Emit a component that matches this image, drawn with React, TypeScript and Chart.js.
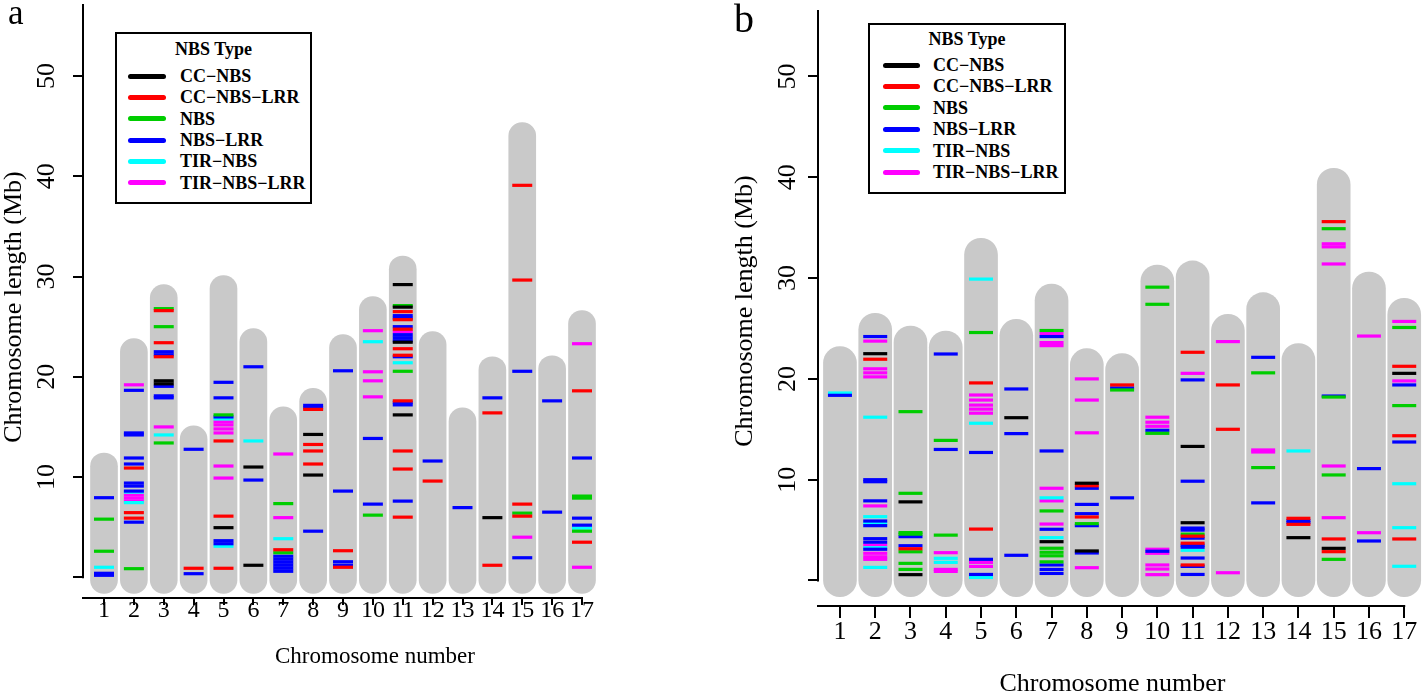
import React, { useEffect, useRef } from 'react';
import { Chart, registerables } from 'chart.js';

Chart.register(...registerables);

const FONT = "'Liberation Serif', 'Times New Roman', serif";

// ---------- shared categories / ticks ----------
const CHROMOSOMES = [1, 2, 3, 4, 5, 6, 7, 8, 9, 10, 11, 12, 13, 14, 15, 16, 17];
const Y_TICKS = [0, 10, 20, 30, 40, 50];
const TYPE_NAMES = ['CC\u2212NBS', 'CC\u2212NBS\u2212LRR', 'NBS', 'NBS\u2212LRR', 'TIR\u2212NBS', 'TIR\u2212NBS\u2212LRR'];
const TYPE_COLORS = ['#000000', '#FF0000', '#00CD00', '#0000FF', '#00FFFF', '#FF00FF'];
const CAP_MB = 1.6; // rounded end of each chromosome bar

// ---------- panel a ----------
const lengthsA = [10.8, 22.2, 27.6, 13.5, 28.5, 23.2, 15.4, 17.25, 22.6, 26.4, 30.45, 22.9, 15.3, 20.4, 43.75, 20.5, 25.0];

const aCcNbs = [[3, 19.6], [3, 19.3], [5, 4.95], [6, 11.0], [6, 1.2], [8, 14.25], [8, 10.2], [11, 29.2], [11, 26.95], [11, 23.45], [11, 16.2], [14, 5.95]];
const aCcNbsLrr = [[2, 10.9], [2, 6.45], [2, 5.9], [3, 26.6], [3, 23.4], [3, 22.0], [4, 0.9], [5, 13.6], [5, 6.1], [5, 0.9], [7, 2.75], [8, 16.75], [8, 13.25], [8, 12.6], [8, 11.3], [9, 2.65], [9, 1.0], [11, 26.5], [11, 25.7], [11, 24.75], [11, 22.8], [11, 22.15], [11, 17.6], [11, 12.6], [11, 10.8], [11, 6.0], [12, 9.6], [14, 16.4], [14, 1.2], [15, 39.1], [15, 29.65], [15, 7.3], [15, 6.1], [17, 18.6], [17, 3.5]];
const aNbs = [[1, 5.8], [1, 2.6], [2, 0.86], [3, 26.8], [3, 25.0], [3, 13.4], [5, 16.2], [7, 7.35], [7, 2.45], [10, 6.2], [11, 27.1], [11, 20.55], [15, 6.4], [17, 8.1], [17, 7.9], [17, 4.6]];
const aNbsLrr = [[1, 7.94], [1, 0.4], [1, 0.2], [2, 18.65], [2, 14.4], [2, 14.2], [2, 11.9], [2, 11.3], [2, 9.4], [2, 9.1], [2, 8.6], [2, 5.5], [3, 22.5], [3, 22.2], [3, 19.05], [3, 18.1], [3, 17.9], [4, 12.77], [4, 0.36], [5, 19.45], [5, 17.9], [5, 16.0], [5, 3.65], [5, 3.35], [6, 21.0], [6, 9.7], [7, 2.1], [7, 1.8], [7, 1.5], [7, 1.2], [7, 0.9], [7, 0.6], [8, 17.15], [8, 16.9], [8, 4.6], [9, 20.6], [9, 8.6], [9, 1.55], [9, 1.2], [10, 13.85], [10, 7.3], [11, 26.1], [11, 25.85], [11, 25.0], [11, 24.2], [11, 23.9], [11, 23.6], [11, 22.0], [11, 17.45], [11, 17.2], [11, 7.6], [12, 11.6], [13, 6.95], [14, 17.9], [15, 20.55], [15, 1.95], [16, 17.6], [16, 6.5], [17, 11.9], [17, 5.9], [17, 5.2]];
const aTirNbs = [[1, 1.0], [2, 8.5], [2, 7.45], [3, 14.2], [5, 15.8], [5, 3.1], [6, 13.6], [7, 3.85], [10, 23.5], [11, 21.4], [17, 4.9]];
const aTirNbsLrr = [[2, 19.2], [2, 8.2], [2, 7.9], [2, 7.6], [3, 15.0], [5, 15.5], [5, 15.2], [5, 14.8], [5, 14.4], [5, 11.1], [5, 9.9], [7, 12.3], [7, 5.95], [10, 24.6], [10, 20.5], [10, 19.6], [10, 18.0], [11, 24.5], [15, 4.0], [17, 23.3], [17, 1.0]];

// ---------- panel b ----------
const lengthsB = [21.6, 24.9, 23.65, 23.15, 32.35, 24.3, 27.8, 21.4, 20.9, 29.7, 30.1, 24.8, 26.95, 21.9, 39.3, 29.0, 26.4];

const bCcNbs = [[2, 22.5], [3, 7.8], [3, 0.58], [6, 16.15], [7, 3.85], [8, 9.65], [8, 2.93], [11, 13.3], [11, 5.73], [14, 4.25], [15, 3.19], [17, 20.55]];
const bCcNbsLrr = [[2, 21.95], [3, 3.15], [5, 19.6], [5, 5.1], [8, 9.4], [8, 6.3], [9, 19.4], [11, 22.64], [11, 4.4], [11, 3.7], [11, 1.54], [12, 19.4], [12, 15.0], [14, 6.17], [14, 5.57], [15, 35.6], [15, 4.12], [15, 2.86], [17, 21.25], [17, 14.36], [17, 4.12]];
const bNbs = [[3, 16.75], [3, 8.65], [3, 4.75], [3, 4.6], [3, 2.85], [3, 1.7], [3, 1.1], [4, 13.9], [4, 4.5], [5, 24.6], [7, 24.8], [7, 6.9], [7, 3.2], [7, 2.8], [7, 2.45], [7, 1.85], [8, 5.64], [9, 18.9], [10, 29.1], [10, 27.4], [10, 14.6], [11, 4.6], [13, 20.6], [13, 11.2], [15, 34.9], [15, 18.2], [15, 10.47], [15, 2.1], [17, 25.1], [17, 17.35]];
const bNbsLrr = [[1, 18.37], [2, 24.2], [2, 10.0], [2, 9.8], [2, 7.9], [2, 5.9], [2, 5.44], [2, 4.15], [2, 3.8], [2, 3.1], [3, 4.35], [3, 3.45], [4, 22.47], [4, 13.0], [5, 12.7], [5, 2.1], [5, 0.6], [6, 19.0], [6, 14.57], [6, 2.5], [7, 24.2], [7, 12.85], [7, 5.08], [7, 1.54], [7, 1.1], [7, 0.7], [8, 9.15], [8, 7.55], [8, 6.63], [8, 5.44], [8, 2.73], [9, 19.1], [9, 8.2], [10, 14.9], [10, 2.9], [11, 19.9], [11, 9.85], [11, 5.2], [11, 5.0], [11, 4.2], [11, 3.5], [11, 3.3], [11, 2.23], [11, 1.4], [11, 0.6], [13, 22.14], [13, 7.7], [14, 5.95], [14, 5.75], [15, 18.3], [16, 11.1], [16, 3.92], [17, 19.4], [17, 13.74]];
const bTirNbs = [[1, 18.6], [2, 16.2], [2, 6.33], [2, 5.67], [2, 3.25], [2, 1.3], [4, 2.2], [4, 1.8], [5, 29.9], [5, 15.6], [5, 0.3], [7, 8.2], [7, 4.25], [11, 3.0], [14, 12.85], [17, 9.6], [17, 5.24], [17, 1.41]];
const bTirNbsLrr = [[2, 23.75], [2, 21.0], [2, 20.6], [2, 20.2], [2, 7.4], [2, 3.5], [2, 2.7], [2, 2.35], [2, 2.1], [4, 2.76], [4, 1.1], [4, 0.9], [5, 18.4], [5, 17.9], [5, 17.4], [5, 17.0], [5, 16.6], [5, 1.8], [5, 1.4], [5, 0.4], [7, 24.5], [7, 23.6], [7, 23.3], [7, 9.15], [7, 7.9], [7, 5.6], [8, 20.0], [8, 17.9], [8, 14.65], [8, 1.27], [10, 16.2], [10, 15.7], [10, 15.3], [10, 3.1], [10, 2.7], [10, 1.54], [10, 1.14], [10, 0.58], [11, 20.55], [12, 23.7], [12, 0.77], [13, 12.95], [13, 12.75], [15, 33.4], [15, 33.1], [15, 31.4], [15, 11.36], [15, 6.23], [16, 24.25], [16, 4.74], [17, 25.7], [17, 19.8]];

const marksA = [aCcNbs, aCcNbsLrr, aNbs, aNbsLrr, aTirNbs, aTirNbsLrr];
const marksB = [bCcNbs, bCcNbsLrr, bNbs, bNbsLrr, bTirNbs, bTirNbsLrr];

// ---------- layout specs ----------
type Spec = {
  left: number; lengths: number[]; marks: number[][][];
  padTop: number; padRight: number; yWidth: number; xHeight: number;
  xMin: number; xMax: number; yMin: number; yMax: number; axisTop: number;
  barWidth: number; markRadius: number;
  xTickFont: number; xTickLen: number; xTickPad: number; xTitleFont: number; xTitlePad: number;
  yTickPad: number; yTitlePad: number;
};

const specA: Spec = {
  left: 0, lengths: lengthsA, marks: marksA,
  padTop: 16, padRight: 44, yWidth: 83, xHeight: 95,
  xMin: 0.297, xMax: 19.845, yMin: -2.065, yMax: 55.99, axisTop: 57.19,
  barWidth: 27, markRadius: 10,
  xTickFont: 24, xTickLen: 7, xTickPad: -6, xTitleFont: 23, xTitlePad: 24.5,
  yTickPad: 13, yTitlePad: 1,
};
const specB: Spec = {
  left: 711, lengths: lengthsB, marks: marksB,
  padTop: 16, padRight: 14, yWidth: 107, xHeight: 87,
  xMin: 0.3775, xMax: 17.073, yMin: -2.53, yMax: 56.0, axisTop: 56.6,
  barWidth: 33, markRadius: 12,
  xTickFont: 26, xTickLen: 12, xTickPad: 1.4, xTitleFont: 26, xTitlePad: -4,
  yTickPad: 7, yTitlePad: 21,
};

const axisLinesPlugin = {
  id: 'axisLines',
  afterDraw(chart: any) {
    const { ctx, chartArea, scales } = chart;
    const xs = scales.x;
    const ys = scales.y;
    const top = (chart.options.plugins.axisLines || {}).top;
    ctx.save();
    ctx.strokeStyle = '#000';
    ctx.lineWidth = 2;
    ctx.beginPath();
    ctx.moveTo(chartArea.left, ys.getPixelForValue(0) + 1);
    ctx.lineTo(chartArea.left, ys.getPixelForValue(top));
    ctx.moveTo(chartArea.left - 1, chartArea.bottom);
    ctx.lineTo(xs.getPixelForValue(CHROMOSOMES[CHROMOSOMES.length - 1]) + 1, chartArea.bottom);
    ctx.stroke();
    ctx.restore();
  },
};

function zeroPadding(sc: any) {
  sc.paddingTop = 0;
  sc.paddingBottom = 0;
  sc.paddingLeft = 0;
  sc.paddingRight = 0;
}

function buildConfig(s: Spec): any {
  const barData = CHROMOSOMES.map((c, i) => ({ x: c, y: [-CAP_MB, s.lengths[i] + CAP_MB] }));
  const markSets = s.marks.map((pts, k) => ({
    type: 'scatter',
    label: TYPE_NAMES[k],
    data: pts.map(([c, v]) => ({ x: c, y: v })),
    pointStyle: 'line',
    pointRadius: s.markRadius,
    pointHoverRadius: s.markRadius,
    pointBorderWidth: 3.2,
    pointHoverBorderWidth: 3.2,
    pointBorderColor: TYPE_COLORS[k],
    pointBackgroundColor: TYPE_COLORS[k],
    borderColor: TYPE_COLORS[k],
    showLine: false,
    order: 0,
    clip: false,
  }));
  return {
    type: 'bar',
    data: {
      datasets: [
        ...markSets,
        {
          type: 'bar',
          label: 'chromosome',
          data: barData,
          backgroundColor: '#C9C9C9',
          borderWidth: 0,
          barThickness: s.barWidth,
          borderRadius: s.barWidth / 2,
          borderSkipped: false,
          order: 1,
          clip: false,
        },
      ],
    },
    options: {
      responsive: false,
      animation: false,
      events: [],
      layout: { padding: { left: 0, right: s.padRight, top: s.padTop, bottom: 0 } },
      plugins: { legend: { display: false }, tooltip: { enabled: false }, title: { display: false }, axisLines: { top: s.axisTop } },
      scales: {
        x: {
          type: 'linear',
          position: 'bottom',
          min: s.xMin,
          max: s.xMax,
          bounds: 'data',
          offset: false,
          afterBuildTicks: (sc: any) => { sc.ticks = CHROMOSOMES.map((v) => ({ value: v })); },
          afterFit: (sc: any) => { sc.height = s.xHeight; zeroPadding(sc); },
          grid: { display: true, offset: false, drawOnChartArea: false, drawTicks: true, tickLength: s.xTickLen, tickWidth: 2, lineWidth: 2, color: '#000', tickColor: '#000' },
          border: { display: false },
          ticks: {
            color: '#000', font: { family: FONT, size: s.xTickFont, lineHeight: 1 }, padding: s.xTickPad,
            minRotation: 0, maxRotation: 0, autoSkip: false,
            callback: (v: any) => String(v),
          },
          title: {
            display: true, text: 'Chromosome number', color: '#000',
            font: { family: FONT, size: s.xTitleFont, lineHeight: 1 },
            padding: { top: 0, bottom: s.xTitlePad },
          },
        },
        y: {
          type: 'linear',
          position: 'left',
          min: s.yMin,
          max: s.yMax,
          bounds: 'data',
          afterBuildTicks: (sc: any) => { sc.ticks = Y_TICKS.map((v) => ({ value: v })); },
          afterFit: (sc: any) => { sc.width = s.yWidth; zeroPadding(sc); },
          grid: { display: true, drawOnChartArea: false, drawTicks: true, tickLength: 10, tickWidth: 2, lineWidth: 2, color: '#000', tickColor: '#000' },
          border: { display: false },
          ticks: {
            color: '#000', font: { family: FONT, size: 26 }, padding: s.yTickPad,
            minRotation: 90, maxRotation: 90, crossAlign: 'center',
            callback: (v: any) => (v === 0 ? '' : String(v)),
          },
          title: {
            display: true, text: 'Chromosome length (Mb)', color: '#000',
            font: { family: FONT, size: 26, lineHeight: 1 },
            padding: { top: s.yTitlePad, bottom: 0 },
          },
        },
      },
    },
    plugins: [axisLinesPlugin],
  };
}

function Panel({ spec }: { spec: Spec }) {
  const ref = useRef<HTMLCanvasElement | null>(null);
  useEffect(() => {
    const chart = new Chart(ref.current as HTMLCanvasElement, buildConfig(spec));
    return () => chart.destroy();
  }, [spec]);
  return (
    <canvas
      ref={ref}
      width={711}
      height={693}
      style={{ position: 'absolute', left: spec.left, top: 0, width: 711, height: 693 }}
    />
  );
}

type LegendLayout = {
  left: number; top: number; width: number; height: number;
  titleY: number; rowY: number; rowGap: number; lineLeft: number; lineW: number; textLeft: number;
};

function Legend({ l }: { l: LegendLayout }) {
  return (
    <div
      style={{
        position: 'absolute', left: l.left, top: l.top, width: l.width, height: l.height,
        border: '2px solid #000', boxSizing: 'border-box', background: '#fff',
        fontFamily: FONT, fontWeight: 'bold', fontSize: 18, color: '#000',
      }}
    >
      <div style={{ position: 'absolute', left: 0, width: '100%', top: l.titleY - 10 - 2, lineHeight: '20px', textAlign: 'center' }}>
        NBS Type
      </div>
      {TYPE_NAMES.map((name, i) => {
        const cy = l.rowY + i * l.rowGap - 2;
        return (
          <React.Fragment key={name}>
            <div style={{ position: 'absolute', left: l.lineLeft - 2, top: cy - 2.5, width: l.lineW, height: 5, borderRadius: 2.5, background: TYPE_COLORS[i] }} />
            <div style={{ position: 'absolute', left: l.textLeft - 2, top: cy - 10, lineHeight: '20px', whiteSpace: 'nowrap' }}>{name}</div>
          </React.Fragment>
        );
      })}
    </div>
  );
}

const legendA: LegendLayout = { left: 115, top: 32, width: 197, height: 172, titleY: 17, rowY: 44, rowGap: 21.35, lineLeft: 13, lineW: 38, textLeft: 65 };
const legendB: LegendLayout = { left: 868, top: 23, width: 198, height: 171, titleY: 16.3, rowY: 42, rowGap: 21.4, lineLeft: 15, lineW: 37, textLeft: 65 };

export default function App() {
  return (
    <div style={{ position: 'absolute', left: 0, top: 0, width: 1422, height: 693, background: '#fff', overflow: 'hidden' }}>
      <Panel spec={specA} />
      <Panel spec={specB} />
      <Legend l={legendA} />
      <Legend l={legendB} />
      <div style={{ position: 'absolute', left: 8, top: -5, fontFamily: FONT, fontSize: 35, lineHeight: 1, color: '#000' }}>a</div>
      <div style={{ position: 'absolute', left: 734, top: -1.5, fontFamily: FONT, fontSize: 40, lineHeight: 1, color: '#000' }}>b</div>
    </div>
  );
}
